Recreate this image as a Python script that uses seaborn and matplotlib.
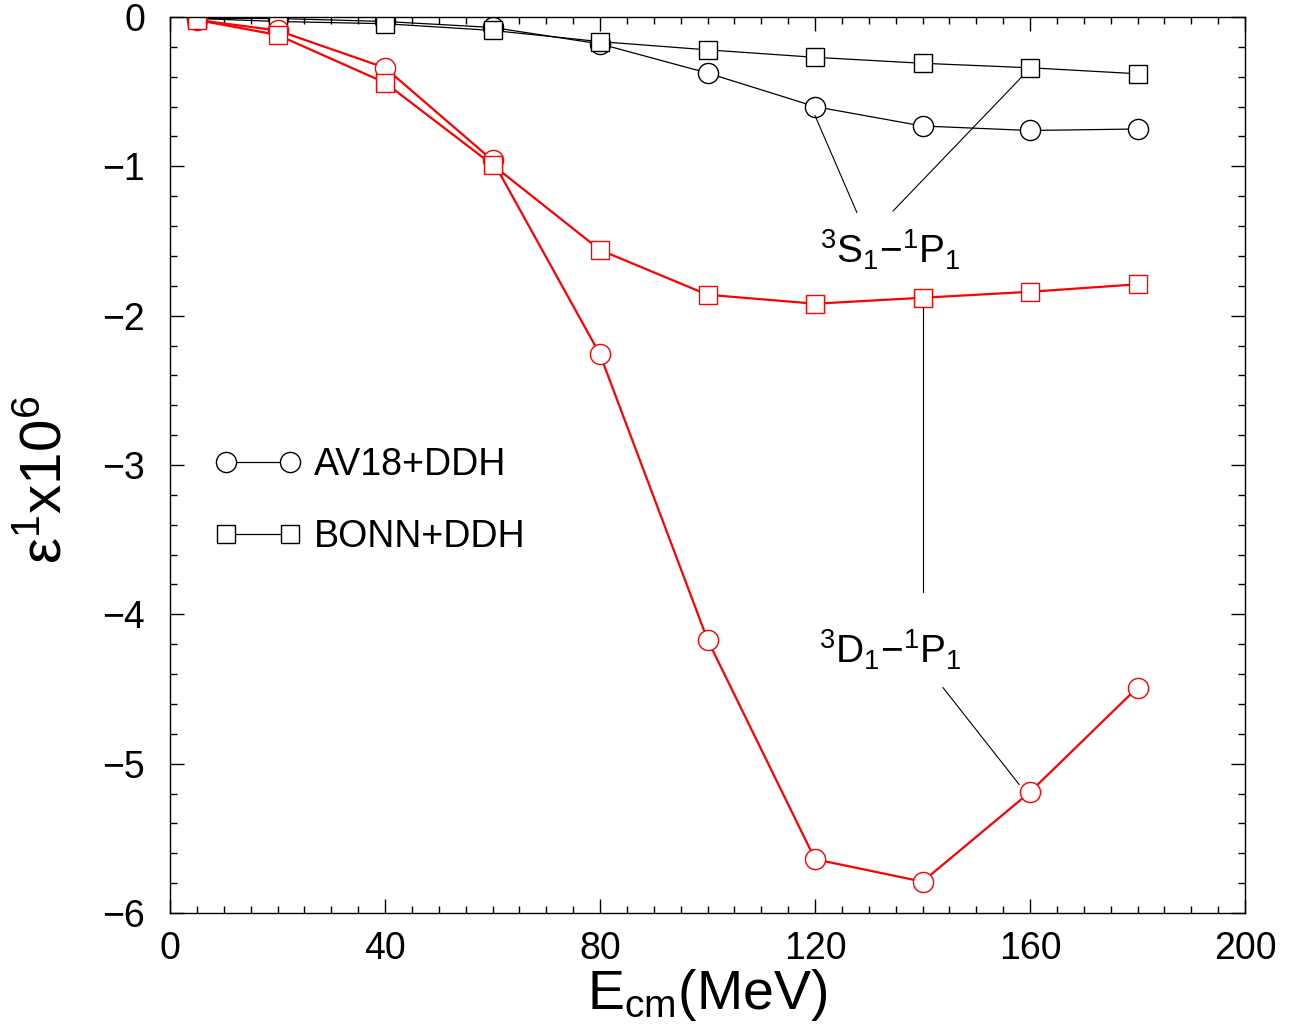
import matplotlib
matplotlib.use("Agg")
import matplotlib.pyplot as plt
from matplotlib.lines import Line2D
from matplotlib.ticker import MultipleLocator
import seaborn as sns
import pandas as pd

energy = [5, 20, 40, 60, 80, 100, 120, 140, 160, 180]
av18_S1P1 = [-0.01, -0.01, -0.03, -0.07, -0.18, -0.375, -0.60, -0.73, -0.76, -0.75]
bonn_S1P1 = [-0.01, -0.03, -0.045, -0.09, -0.165, -0.22, -0.27, -0.31, -0.34, -0.38]
av18_D1P1 = [-0.02, -0.09, -0.34, -0.96, -2.26, -4.17, -5.64, -5.79, -5.19, -4.49]
bonn_D1P1 = [-0.02, -0.12, -0.44, -0.99, -1.56, -1.86, -1.92, -1.88, -1.84, -1.79]

sns.set_theme(style="ticks")
plt.rcParams['font.family'] = ['Liberation Sans', 'DejaVu Sans']
plt.rcParams['mathtext.fontset'] = 'custom'
plt.rcParams['mathtext.rm'] = 'Liberation Sans'
plt.rcParams['mathtext.it'] = 'Liberation Sans'
plt.rcParams['mathtext.default'] = 'regular'
plt.rcParams['text.color'] = 'black'
plt.rcParams['axes.labelcolor'] = 'black'
plt.rcParams['xtick.color'] = 'black'
plt.rcParams['ytick.color'] = 'black'

fig = plt.figure(figsize=(12.94, 10.33), dpi=100)
ax = fig.add_axes([170/1294, 1-913/1033, (1245-170)/1294, (913-17)/1033])

df = pd.DataFrame({"E": energy, "a1": av18_S1P1, "b1": bonn_S1P1,
                   "a2": av18_D1P1, "b2": bonn_D1P1})

series = [("a1", "black", "o", 14.5, 0.9),
          ("b1", "black", "s", 12.5, 0.9),
          ("a2", "red", "o", 14.5, 1.6),
          ("b2", "red", "s", 12.5, 1.6)]
for col, c, m, ms, lw in series:
    sns.lineplot(data=df, x="E", y=col, ax=ax, color=c, marker=m, markersize=ms,
                 markerfacecolor="white", markeredgecolor=c, markeredgewidth=1.0,
                 linewidth=lw, legend=False)

# annotation pointer lines
ax.plot([120, 127.8], [-0.66, -1.31], color="black", lw=0.8)
ax.plot([158.5, 134.5], [-0.40, -1.30], color="black", lw=0.8)
ax.plot([140, 140], [-1.94, -3.85], color="black", lw=0.8)
ax.plot([143.8, 158.0], [-4.49, -5.14], color="black", lw=0.8)

ax.text(134, -1.56, r"$^{3}$S$_{1}$$-$$^{1}$P$_{1}$", fontsize=28, ha="center", va="center")
ax.text(134, -4.24, r"$^{3}$D$_{1}$$-$$^{1}$P$_{1}$", fontsize=28, ha="center", va="center")

ax.set_xlim(0, 200)
ax.set_ylim(-6, 0)
ax.xaxis.set_major_locator(MultipleLocator(40))
ax.xaxis.set_minor_locator(MultipleLocator(5))
ax.yaxis.set_major_locator(MultipleLocator(1))
ax.yaxis.set_minor_locator(MultipleLocator(0.2))
ax.tick_params(which="both", direction="in", top=True, right=True, width=1.0, color="black")
ax.tick_params(which="major", length=10, labelsize=27)
ax.tick_params(axis="y", which="major", pad=18)
ax.tick_params(axis="x", which="major", pad=13)
ax.tick_params(which="minor", length=5)
for s in ax.spines.values():
    s.set_linewidth(1.0)
    s.set_color("black")

ax.set_xlabel(r"E$_{cm}$(MeV)", fontsize=40, labelpad=0)
ax.set_ylabel(r"$\varepsilon^{1}$x10$^{6}$", fontsize=42)
ax.yaxis.set_label_coords(-0.09, 0.483)

handles = [Line2D([], [], color="black", lw=0.9, marker="o", markersize=14.5,
                  markerfacecolor="white", markeredgewidth=1.0),
           Line2D([], [], color="black", lw=0.9, marker="s", markersize=12.5,
                  markerfacecolor="white", markeredgewidth=1.0)]
ax.legend(handles, ["AV18+DDH", "BONN+DDH"], numpoints=2, frameon=False,
          fontsize=27, loc="center left", bbox_to_anchor=(0.01, 0.46),
          handlelength=2.3, handletextpad=0.35, labelspacing=0.95)

fig.savefig("out.png", dpi=100)
